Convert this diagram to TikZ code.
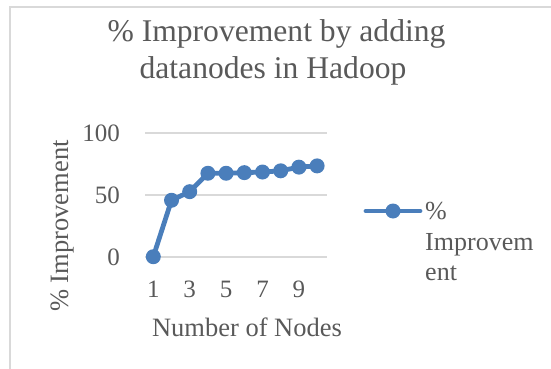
\documentclass[tikz,border=0pt]{standalone}
\usepackage{fontspec}
\setmainfont{Liberation Serif}
\definecolor{txt}{HTML}{595959}
\definecolor{gridc}{HTML}{D9D9D9}
\definecolor{ser}{HTML}{4A7EBB}
\tikzset{
  lbl/.style={text=txt, inner sep=0pt, font=\fontsize{25}{30}\selectfont},
  axt/.style={text=txt, inner sep=0pt, font=\fontsize{26.5}{31}\selectfont},
  leg/.style={text=txt, inner sep=0pt, font=\fontsize{26}{31}\selectfont, anchor=base west},
  ttl/.style={text=txt, inner sep=0pt, anchor=base, font=\fontsize{31.6}{37}\selectfont},
  gridl/.style={draw=gridc, line width=1.2pt},
  serline/.style={draw=ser, line width=4.8pt, line join=round, line cap=round},
  mk/.style={circle, fill=ser, inner sep=0pt, minimum size=15pt},
}
\begin{document}
\begin{tikzpicture}[x=1pt,y=-1pt]
\useasboundingbox (0,0) rectangle (551,369);
% frame
\coordinate (fb) at (10,369);
\coordinate (fc) at (10,7);
\coordinate (fr) at (551,7);
\draw[draw=gridc, line width=1.2pt] (fb) -- (fc) -- (fr);
% title
\node[ttl] (t1) at (276.5,41.5) {\% Improvement by adding};
\node[ttl] (t2) at (273,78.5) {datanodes in Hadoop};
% grid
\foreach \yy/\nm in {133/g100,195/g50,257/g0}{
  \coordinate (\nm a) at (145,\yy);
  \coordinate (\nm b) at (327,\yy);
  \draw[gridl] (\nm a) -- (\nm b);
}
% y tick labels
\node[lbl, anchor=base east] (y100) at (120,141.5) {100};
\node[lbl, anchor=base east] (y50) at (120,203.5) {50};
\node[lbl, anchor=base east] (y0) at (120,265.5) {0};
% x tick labels
\foreach \i in {1,3,5,7,9}{
  \node[lbl, anchor=base] (x\i) at ({153.3+(\i-1)*18.2},297) {\i};
}
% axis titles
\node[axt, anchor=base] (xt) at (247,336) {Number of Nodes};
\node[axt, anchor=base west, rotate=90] (yt) at (68,312) {\% Improvement};
% series
\foreach \i/\v in {1/0,2/46,3/53,4/68,5/68,6/68.5,7/69,8/70,9/73,10/74}{
  \coordinate (p\i) at ({153.3+(\i-1)*18.2},{256.7-\v*1.227});
}
\draw[serline] (p1) -- (p2) -- (p3) -- (p4) -- (p5) -- (p6) -- (p7) -- (p8) -- (p9) -- (p10);
\foreach \i in {1,...,10}{
  \node[mk] (m\i) at (p\i) {};
}
% legend
\coordinate (la) at (366,211);
\coordinate (lb) at (420,211);
\draw[serline] (la) -- (lb);
\node[mk] (lm) at (393,211) {};
\node[leg] (l1) at (425,219) {\%};
\node[leg] (l2) at (425,250) {Improvem};
\node[leg] (l3) at (425,280) {ent};
\end{tikzpicture}
\end{document}
